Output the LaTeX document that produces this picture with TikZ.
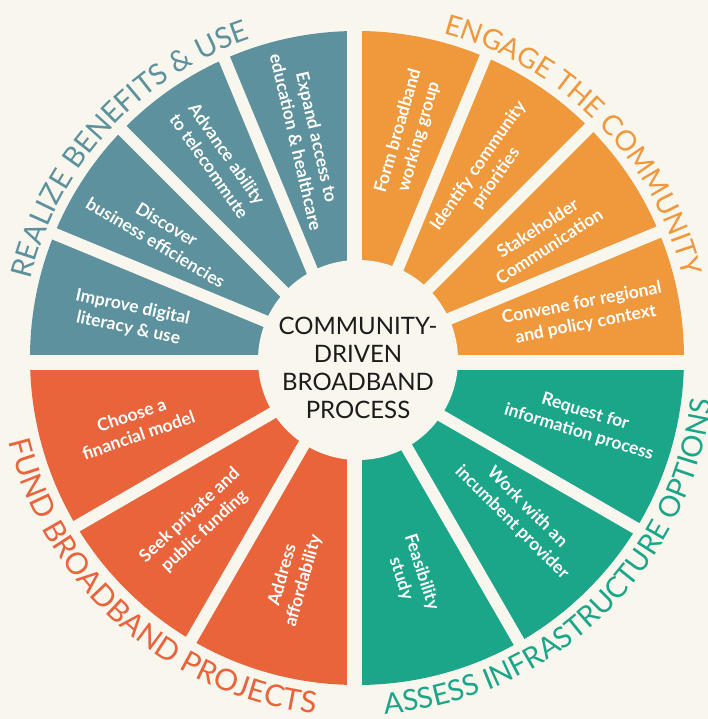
\documentclass[tikz,border=0pt]{standalone}
\usepackage{fontspec}
\setmainfont{Lato}
\usetikzlibrary{decorations.text}
\definecolor{bg}{HTML}{F9F6EE}
\definecolor{cteal}{HTML}{5C919D}
\definecolor{corange}{HTML}{EF983C}
\definecolor{cgreen}{HTML}{1BA68A}
\definecolor{cred}{HTML}{E9643A}
\definecolor{ctext}{HTML}{1C1C1C}
\begin{document}
\begin{tikzpicture}[x=1pt,y=1pt,
  seglabel/.style={text=white, font=\bfseries\fontsize{17.5}{21.5}\selectfont, align=center, inner sep=0pt},
  gapline/.style={bg, line width=12pt},
]
\fill[bg] (-357,-361) rectangle (351,358);
\useasboundingbox (-357,-361) rectangle (351,358);

% quadrants
\fill[corange] (0,0) -- (0:327) arc[start angle=0,end angle=90,radius=327] -- cycle;
\fill[cteal] (0,0) -- (90:327) arc[start angle=90,end angle=180,radius=327] -- cycle;
\fill[cred] (0,0) -- (180:327) arc[start angle=180,end angle=270,radius=327] -- cycle;
\fill[cgreen] (0,0) -- (270:327) arc[start angle=270,end angle=360,radius=327] -- cycle;

% quadrant gaps
\fill[bg] (-10,-340) rectangle (5,340);
\fill[bg] (-340,-12) rectangle (340,3);

% corners
\coordinate (ctl) at (-10,3);
\coordinate (ctr) at (5,3);
\coordinate (cbl) at (-10,-12);
\coordinate (cbr) at (5,-12);

% dividers
\foreach \a in {112.5,135,157.5} \draw[gapline] (ctl) -- ++(\a:345);
\foreach \a in {22.5,45,67.5} \draw[gapline] (ctr) -- ++(\a:345);
\foreach \a in {-30,-60} \draw[gapline] (cbr) -- ++(\a:345);
\foreach \a in {210,240} \draw[gapline] (cbl) -- ++(\a:345);

% hub
\fill[bg] (1,-2) circle (100);
\node[font=\fontsize{24}{28}\selectfont, text=ctext, align=center] (hub) at (1,-10)
  {COMMUNITY-\\DRIVEN\\BROADBAND\\PROCESS};

% teal
\node[seglabel, rotate=-77] (e1) at (103:224) {Expand access to\\education \& healthcare};
\node[seglabel, rotate=-55] (e2) at (125:242) {Advance ability\\to telecommute};
\node[seglabel, rotate=-31] (e3) at (147.5:232) {Discover\\business efficiencies};
\node[seglabel, rotate=-12] (e4) at (170:230) {Improve digital\\literacy \& use};
% orange
\node[seglabel, rotate=74] (o1) at (77:230) {Form broadband\\working group};
\node[seglabel, rotate=55] (o2) at (55:227) {Identify community\\priorities};
\node[seglabel, rotate=33] (o3) at (33:222) {Stakeholder\\Communication};
\node[seglabel, rotate=11] (o4) at (11:231) {Convene for regional\\and policy context};
% green
\node[seglabel, rotate=-17] (g1) at (-15.9:234) {Request for\\information process};
\node[seglabel, rotate=-45] (g2) at (-44:226) {Work with an\\incumbent provider};
\node[seglabel, rotate=-72] (g3) at (-76:224) {Feasibility\\study};
% red
\node[seglabel, rotate=19] (r1) at (196.8:232) {Choose a\\financial model};
\node[seglabel, rotate=43] (r2) at (226:230) {Seek private and\\public funding};
\node[seglabel, rotate=74] (r3) at (253.8:229) {Address\\affordability};

% ring titles
\path[decorate, decoration={text along path, text align=center, text color=cteal,
  text={|\fontsize{29}{29}\selectfont|REALIZE BENEFITS {\&} USE}}]
  (177.5:336) arc[start angle=177.5, end angle=97.5, radius=336];
\path[decorate, decoration={text along path, text align=center, text color=corange,
  text={|\fontsize{28}{28}\selectfont|ENGAGE THE COMMUNITY}}]
  (84.5:336) arc[start angle=84.5, end angle=4.5, radius=336];
\path[decorate, decoration={text along path, text align=center, text color=cgreen,
  text={|\fontsize{29}{29}\selectfont|ASSESS INFRASTRUCTURE OPTIONS}}]
  (-96:357) arc[start angle=-96, end angle=3.6, radius=357];
\path[decorate, decoration={text along path, text align=center, text color=cred,
  text={|\fontsize{30}{30}\selectfont|FUND BROADBAND PROJECTS}}]
  (183.4:358) arc[start angle=183.4, end angle=273.4, radius=358];
\end{tikzpicture}
\end{document}
